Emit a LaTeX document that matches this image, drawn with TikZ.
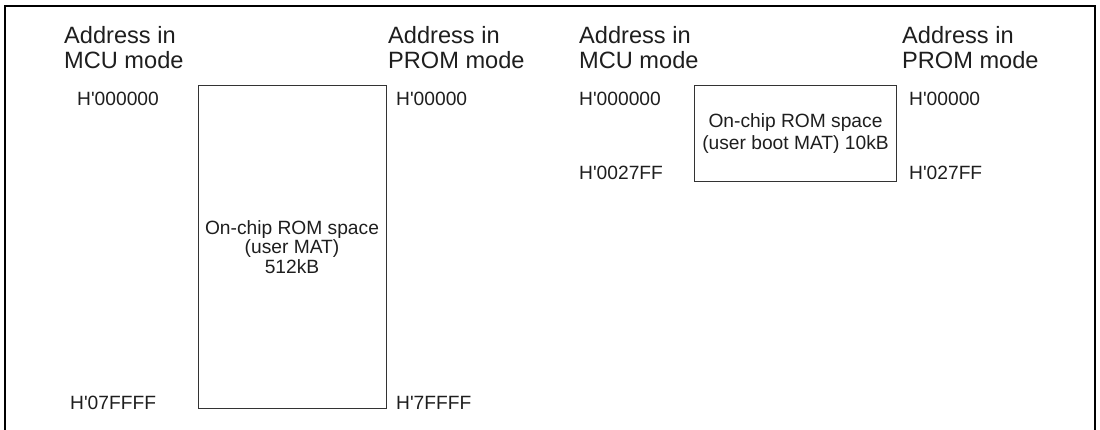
\documentclass[tikz,border=0pt]{standalone}
\usepackage{fontspec}
\setmainfont{Liberation Sans}
\usepackage{xcolor}
\usetikzlibrary{positioning}

\definecolor{textgray}{HTML}{1E1E1E}
\definecolor{linegray}{HTML}{333333}
\newcommand{\hq}{H\textquotesingle}

\begin{document}
\begin{tikzpicture}[
  x=1pt, y=-1pt,
  head/.style={font=\fontsize{23.6}{24.4}\selectfont, align=left,
               anchor=north west, inner sep=0pt, text=textgray},
  addr/.style={font=\fontsize{19.2}{20}\selectfont, anchor=base west,
               inner sep=0pt, text=textgray},
  rombox/.style={draw=linegray, line width=1pt, align=center,
                 inner sep=0pt, text=textgray},
]
\useasboundingbox (0,0) rectangle (1100,430);

% frame, open at the bottom
\draw[line width=1.7pt] (4.7,440) -- (4.7,5.7) -- (1095.3,5.7) -- (1095.3,440);

% column headings
\node[head] (mcuhead) at (64,26.5) {Address in\\MCU mode};
\node[head] (promhead) at (388,26.5) {Address in\\PROM mode};
\node[head] (mcuheadb) at (579,26.5) {Address in\\MCU mode};
\node[head] (promheadb) at (902,26.5) {Address in\\PROM mode};

% user MAT
\node[rombox, minimum width=188pt, minimum height=322pt,
      font=\fontsize{19.2}{19.8}\selectfont] (usermat) at (292,247)
  {On-chip ROM space\\(user MAT)\\512kB};
\node[addr] (matmcutop) at (77,106) {\hq000000};
\node[addr] (matmcubot) at (70,409) {\hq07FFFF};
\node[addr] (matpromtop) at (396,106) {\hq00000};
\node[addr] (matprombot) at (396,409) {\hq7FFFF};

% user boot MAT
\node[rombox, minimum width=202.7pt, minimum height=96pt,
      font=\fontsize{19.2}{22}\selectfont] (bootmat) at (795.5,134)
  {On-chip ROM space\\(user boot MAT) 10kB};
\node[addr] (bootmcutop) at (579,106) {\hq000000};
\node[addr] (bootmcubot) at (579,180) {\hq0027FF};
\node[addr] (bootpromtop) at (909,106) {\hq00000};
\node[addr] (bootprombot) at (909,180) {\hq027FF};
\end{tikzpicture}
\end{document}
